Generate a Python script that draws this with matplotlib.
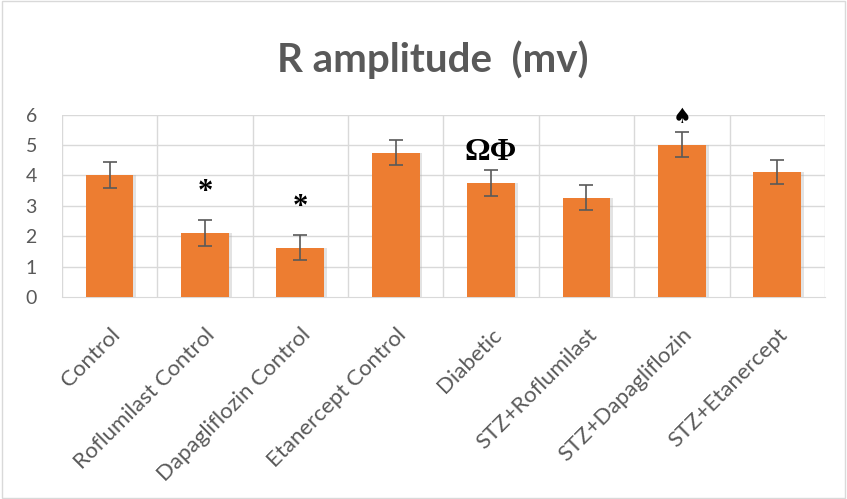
import matplotlib
matplotlib.use("Agg")
from matplotlib import pyplot as plt
from matplotlib.patches import Rectangle
import numpy as np

# dados
grupos = ["Control", "Roflumilast Control", "Dapagliflozin Control", "Etanercept Control",
          "Diabetic", "STZ+Roflumilast", "STZ+Dapagliflozin", "STZ+Etanercept"]
valores = [4.02, 2.1, 1.62, 4.75, 3.76, 3.27, 5.02, 4.12]
erros = [0.43, 0.42, 0.42, 0.42, 0.42, 0.4, 0.42, 0.4]
marcas = ["", "*", "*", "", "ΩΦ", "", "♠", ""]
marcas_y = [0, 3.45, 2.95, 0, 4.75, 0, 5.93, 0]

cinza = "#595959"
laranja = "#ED7D31"

fig = plt.figure(figsize=(8.47, 4.99), dpi=100)
fig.patches.append(Rectangle((0.002, 0.002), 0.996, 0.996, transform=fig.transFigure,
                             fill=False, edgecolor="#d9d9d9", linewidth=1))
ax = fig.add_axes([0.073, 0.405, 0.901, 0.365])

x = np.arange(len(grupos))
# sombra leve
ax.bar(x + 0.03, valores, 0.5, color="#b0b0b0", alpha=0.35, zorder=2)
ax.bar(x, valores, 0.5, color=laranja, zorder=3,
       yerr=erros, error_kw=dict(ecolor="#595959", elinewidth=1.2, capsize=5, capthick=1.2, zorder=4))

for i in range(len(grupos)):
    if marcas[i] == "":
        continue
    if marcas[i] == "♠":
        ax.text(x[i], marcas_y[i], marcas[i], ha="center", va="center", fontsize=15,
                color="black", family="DejaVu Sans", zorder=5)
    else:
        ax.text(x[i], marcas_y[i], marcas[i], ha="center", va="center",
                fontsize=22 if marcas[i] == "*" else 23, fontweight="bold",
                color="black", family="Liberation Serif", zorder=5)

ax.set_xlim(-0.5, len(grupos) - 0.5)
ax.set_ylim(0, 6)
ax.set_yticks(range(0, 7))
ax.set_xticks(x)
ax.set_xticklabels(grupos, rotation=45, ha="right", rotation_mode="anchor",
                   fontsize=16, color=cinza, family="Lato")
for t in ax.get_yticklabels():
    t.set_fontsize(14)
    t.set_color(cinza)
    t.set_family("Lato")
ax.tick_params(axis="both", length=0)
ax.tick_params(axis="y", pad=18)
ax.tick_params(axis="x", pad=20)

for s in ax.spines.values():
    s.set_visible(False)
ax.spines["bottom"].set_visible(True)
ax.spines["bottom"].set_color("#d9d9d9")

for yv in range(1, 7):
    ax.axhline(yv, color="#d9d9d9", linewidth=1, zorder=1)
for xv in np.arange(-0.5, len(grupos) + 0.5, 1):
    ax.axvline(xv, color="#d9d9d9", linewidth=1, zorder=1)

fig.text(0.511, 0.88, "R amplitude  (mv)", ha="center", va="center", fontsize=29,
         fontweight="bold", color=cinza, family="Lato")

fig.savefig("out.png", dpi=100)
